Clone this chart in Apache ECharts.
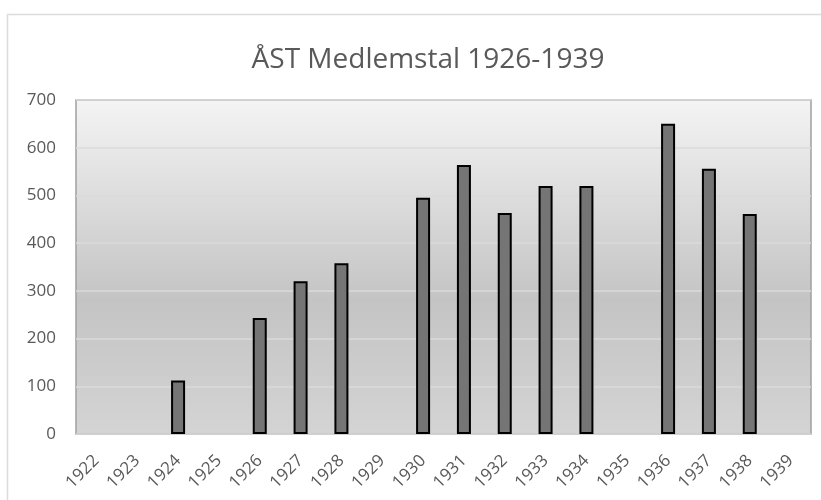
<!DOCTYPE html>
<html>
<head>
<meta charset="utf-8">
<script src="https://cdn.jsdelivr.net/npm/echarts@6/dist/echarts.min.js"></script>
<style>
html,body{margin:0;padding:0;background:#fff;}
.chart{width:821px;height:500px;}
</style>
</head>
<body>
<div class="chart"></div>
<script>
var years = ['1922','1923','1924','1925','1926','1927','1928','1929','1930','1931','1932','1933','1934','1935','1936','1937','1938','1939'];
var members = [null,null,112,null,243,320,358,null,495,564,463,520,520,null,650,556,461,null];
var yTicks = [0,100,200,300,400,500,600,700];

var myChart = echarts.init(document.querySelector('.chart'));

var option = {
    backgroundColor: '#fff',
    animation: false,
    title: {
        text: 'ÅST Medlemstal 1926-1939',
        left: 423,
        top: 41,
        textAlign: 'center',
        textStyle: {
            fontFamily: 'Open Sans',
            fontSize: 28,
            fontWeight: 'normal',
            color: '#595959'
        }
    },
    graphic: [{
        type: 'rect',
        shape: {x: 7.5, y: 14.5, width: 830, height: 500},
        style: {fill: 'none', stroke: '#dcdcdc', lineWidth: 1.5},
        silent: true
    }],
    grid: {
        left: 76,
        right: 10,
        top: 100,
        bottom: 66,
        show: true,
        borderColor: '#a0a0a0',
        borderWidth: 1.5,
        backgroundColor: {
            type: 'linear', x: 0, y: 0, x2: 0, y2: 1,
            colorStops: [
                {offset: 0, color: '#f4f4f4'},
                {offset: 0.6, color: '#c4c4c4'},
                {offset: 1, color: '#d4d4d4'}
            ]
        }
    },
    xAxis: {
        type: 'category',
        data: years,
        axisLine: {show: false},
        axisTick: {show: false},
        axisLabel: {
            rotate: 45,
            margin: 24,
            fontFamily: 'Open Sans',
            fontSize: 17,
            color: '#595959'
        }
    },
    yAxis: {
        type: 'value',
        min: yTicks[0],
        max: yTicks[yTicks.length - 1],
        interval: 100,
        axisLine: {show: false},
        axisTick: {show: false},
        splitLine: {lineStyle: {color: '#dadada', width: 1.5}},
        axisLabel: {
            margin: 20,
            fontFamily: 'Open Sans',
            fontSize: 17,
            color: '#595959'
        }
    },
    series: [{
        type: 'bar',
        data: members,
        barWidth: 14,
        itemStyle: {
            color: '#757575',
            borderColor: '#000',
            borderWidth: 2
        }
    }]
};

myChart.setOption(option);
</script>
</body>
</html>
